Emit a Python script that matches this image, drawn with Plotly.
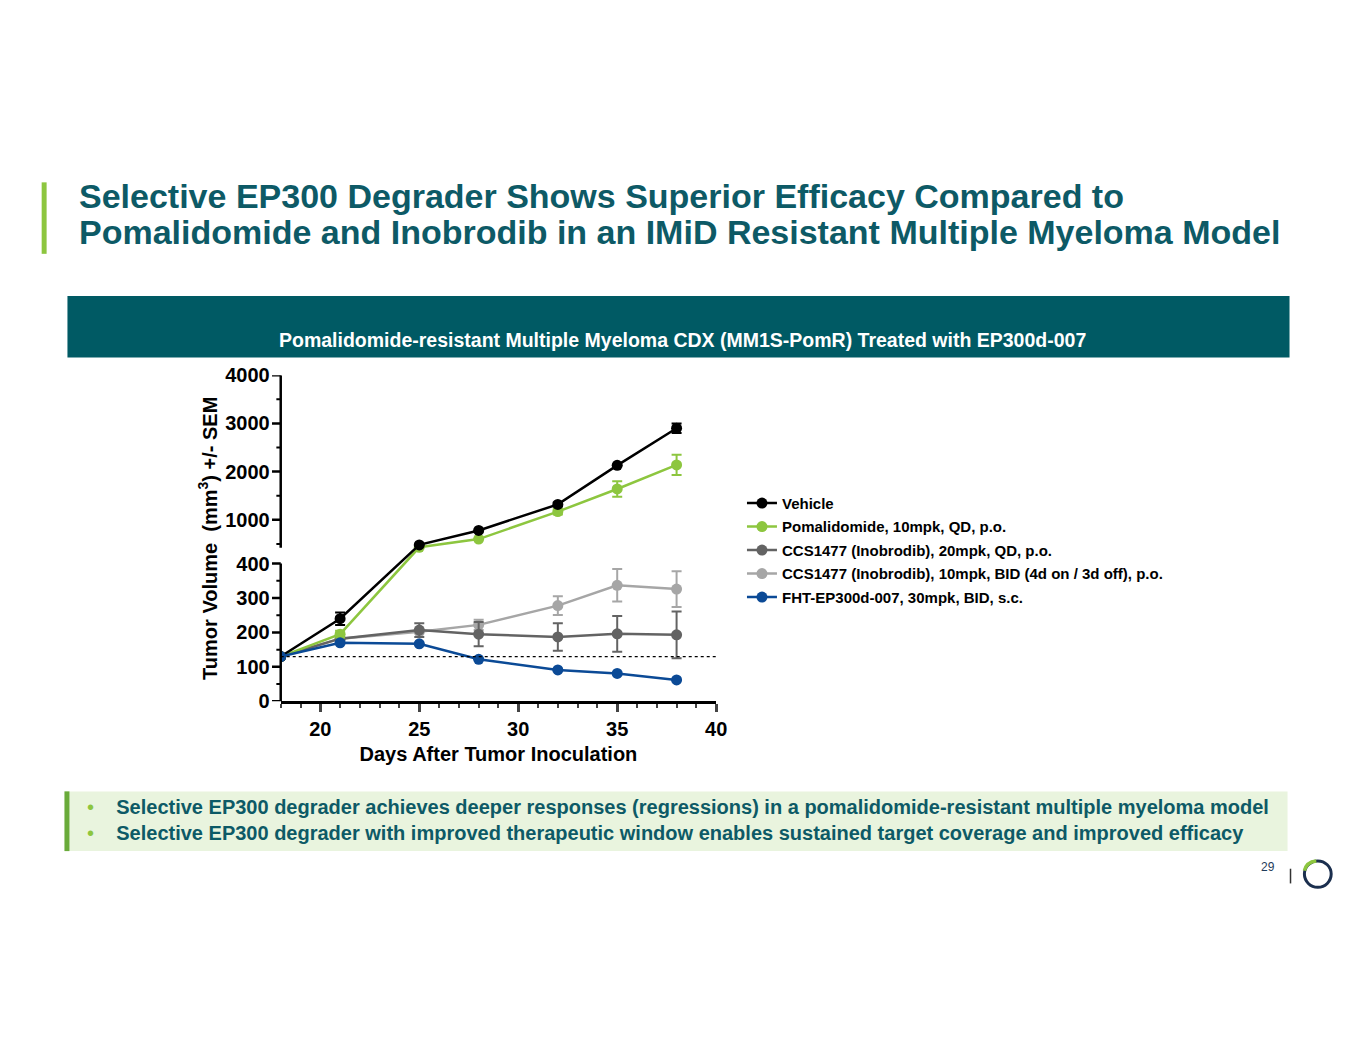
import plotly.graph_objects as go

days = [18, 21, 25, 28, 32, 35, 38]
vehicle = [130, 240, 480, 780, 1320, 2130, 2900]
vehicle_err = [0, 18, 0, 0, 40, 0, 100]
pom = [130, 195, 430, 600, 1170, 1640, 2140]
pom_err = [0, 10, 0, 0, 60, 160, 210]
ccs_qd = [130, 182, 207, 195, 187, 196, 193]
ccs_qd_err = [0, 0, 20, 35, 40, 52, 68]
ccs_bid = [130, 182, 202, 222, 278, 337, 326]
ccs_bid_err = [0, 0, 0, 15, 27, 47, 52]
fht = [130, 170, 167, 122, 91, 81, 62]
fht_err = [0, 0, 0, 0, 0, 0, 0]
names = ["Vehicle", "Pomalidomide, 10mpk, QD, p.o.", "CCS1477 (Inobrodib), 20mpk, QD, p.o.",
         "CCS1477 (Inobrodib), 10mpk, BID (4d on / 3d off), p.o.", "FHT-EP300d-007, 30mpk, BID, s.c."]
colors = ["#000000", "#8dc63f", "#636363", "#a6a6a6", "#0b4a96"]
yticks_low = [0, 100, 200, 300, 400]
yticks_high = [1000, 2000, 3000, 4000]
baseline = 130

FONT = "Liberation Sans"
LOW_TOP, GAP, HIGH_START, SCALE = 400, 46, 420, 0.14
def tf(v):
    if v <= LOW_TOP:
        return v
    return LOW_TOP + GAP + max(v - HIGH_START, 0) * SCALE

def px(x):
    return x / 1365
def py(y):
    return 1 - y / 1055

fig = go.Figure()
series = [(vehicle, vehicle_err), (pom, pom_err), (ccs_qd, ccs_qd_err), (ccs_bid, ccs_bid_err), (fht, fht_err)]
order = [3, 2, 1, 0, 4]
for i in order:
    vals, err = series[i]
    ty = [tf(v) for v in vals]
    plus = [tf(v + e) - tf(v) for v, e in zip(vals, err)]
    minus = [tf(v) - tf(v - e) for v, e in zip(vals, err)]
    fig.add_trace(go.Scatter(x=days, y=ty, name=names[i], mode="lines+markers",
                             line=dict(color=colors[i], width=2.5),
                             marker=dict(color=colors[i], size=11),
                             error_y=dict(type="data", symmetric=False, array=plus, arrayminus=minus,
                                          color=colors[i], thickness=2, width=5),
                             legendrank=i, legendgroup=str(i)))

fig.add_shape(type="line", xref="x", yref="y", x0=18, x1=40, y0=baseline, y1=baseline,
              line=dict(color="black", width=1.2, dash="dot"))
for y0, y1 in [(0, LOW_TOP), (LOW_TOP + GAP, tf(4000))]:
    fig.add_shape(type="line", xref="x domain", yref="y", x0=0, x1=0, y0=y0, y1=y1,
                  line=dict(color="black", width=2.5))
minor = [50, 150, 250, 350] + [500, 1500, 2500, 3500]
for v in minor:
    fig.add_shape(type="line", xref="x domain", yref="y", x0=-0.01, x1=0, y0=tf(v), y1=tf(v),
                  line=dict(color="black", width=2))
for v in yticks_low + yticks_high:
    fig.add_shape(type="line", xref="x domain", yref="y", x0=-0.02, x1=0, y0=tf(v), y1=tf(v),
                  line=dict(color="black", width=2.5))

tv = [tf(v) for v in yticks_low + yticks_high]
fig.update_layout(
    width=1365, height=1055, margin=dict(l=0, r=0, t=0, b=0),
    paper_bgcolor="white", plot_bgcolor="white",
    font=dict(family=FONT, color="black"),
    xaxis=dict(domain=[px(283), px(722)], range=[18, 40], tickvals=[20, 25, 30, 35, 40],
               showline=True, linecolor="black", linewidth=2.5, ticks="outside", ticklen=8,
               tickwidth=2.5, minor=dict(dtick=1, ticks="outside", ticklen=4, tickwidth=2),
               showgrid=False, zeroline=False,
               tickfont=dict(size=20, family=FONT, weight="bold"),
               title=dict(text="<b>Days After Tumor Inoculation</b>", font=dict(size=20), standoff=8)),
    yaxis=dict(domain=[py(705), py(372)], range=[0, tf(4000)], tickvals=tv,
               ticktext=[str(v) for v in yticks_low + yticks_high], ticks="", showline=False,
               showgrid=False, zeroline=False, ticklabelstandoff=10,
               tickfont=dict(size=20, family=FONT, weight="bold"),
               title=dict(text="<b>Tumor Volume  (mm<sup>3</sup>) +/- SEM</b>", font=dict(size=20), standoff=2)),
    legend=dict(x=px(748), y=py(486), xanchor="left", yanchor="top", tracegroupgap=1,
                font=dict(size=15, family=FONT, weight="bold"),
                itemwidth=30, bgcolor="rgba(0,0,0,0)"),
    showlegend=True,
)

teal = "#0d5a66"
fig.add_shape(type="rect", xref="paper", yref="paper", x0=px(42), x1=px(47), y0=py(248), y1=py(175),
              fillcolor="#8dc63f", line_width=0)
for yy, t in [(189, "Selective EP300 Degrader Shows Superior Efficacy Compared to"),
              (226, "Pomalidomide and Inobrodib in an IMiD Resistant Multiple Myeloma Model")]:
    fig.add_annotation(xref="paper", yref="paper", x=px(78), y=py(yy), xanchor="left", yanchor="middle",
                       showarrow=False, text="<b>" + t + "</b>",
                       font=dict(size=34, color=teal, family=FONT))
fig.add_shape(type="rect", xref="paper", yref="paper", x0=px(68), x1=px(1300), y0=py(354), y1=py(291),
              fillcolor="#005a64", line_width=0)
fig.add_annotation(xref="paper", yref="paper", x=px(688), y=py(323), showarrow=False,
                   text="<b>Pomalidomide-resistant Multiple Myeloma CDX (MM1S-PomR) Treated with EP300d-007</b>",
                   font=dict(size=19.5, color="white", family=FONT))
fig.add_shape(type="rect", xref="paper", yref="paper", x0=px(65), x1=px(1298), y0=py(858), y1=py(797),
              fillcolor="#e9f4de", line_width=0)
fig.add_shape(type="rect", xref="paper", yref="paper", x0=px(65), x1=px(70), y0=py(858), y1=py(797),
              fillcolor="#6aab3a", line_width=0)
for yy, t in [(813, "Selective EP300 degrader achieves deeper responses (regressions) in a pomalidomide-resistant multiple myeloma model"),
              (839, "Selective EP300 degrader with improved therapeutic window enables sustained target coverage and improved efficacy")]:
    fig.add_annotation(xref="paper", yref="paper", x=px(86), y=py(yy), xanchor="left", yanchor="middle",
                       showarrow=False, text="<span style='color:#8dc63f'>•</span>    <b>" + t + "</b>",
                       font=dict(size=20, color=teal, family=FONT))
fig.add_annotation(xref="paper", yref="paper", x=px(1287), y=py(883), xanchor="right", showarrow=False,
                   text="29", font=dict(size=12, color="#1f3b5a"))
fig.add_shape(type="line", xref="paper", yref="paper", x0=px(1301), x1=px(1301), y0=py(891), y1=py(876),
              line=dict(color="#333", width=1.5))
fig.add_shape(type="circle", xref="paper", yref="paper", x0=px(1315), x1=px(1342), y0=py(895), y1=py(868),
              line=dict(color="#1b2f4e", width=3))
fig.add_shape(type="path", xref="paper", yref="paper",
              path=f"M {px(1315)} {py(878)} Q {px(1317)} {py(869)} {px(1327)} {py(868)}",
              line=dict(color="#8dc63f", width=3.5))

fig.write_html("out.html", config={"displayModeBar": False})
with open("out.html", encoding="utf-8") as f:
    html = f.read()
html = html.replace("<head>", "<head><style>html,body{margin:0;padding:0;overflow:hidden}</style>", 1)
with open("out.html", "w", encoding="utf-8") as f:
    f.write(html)
